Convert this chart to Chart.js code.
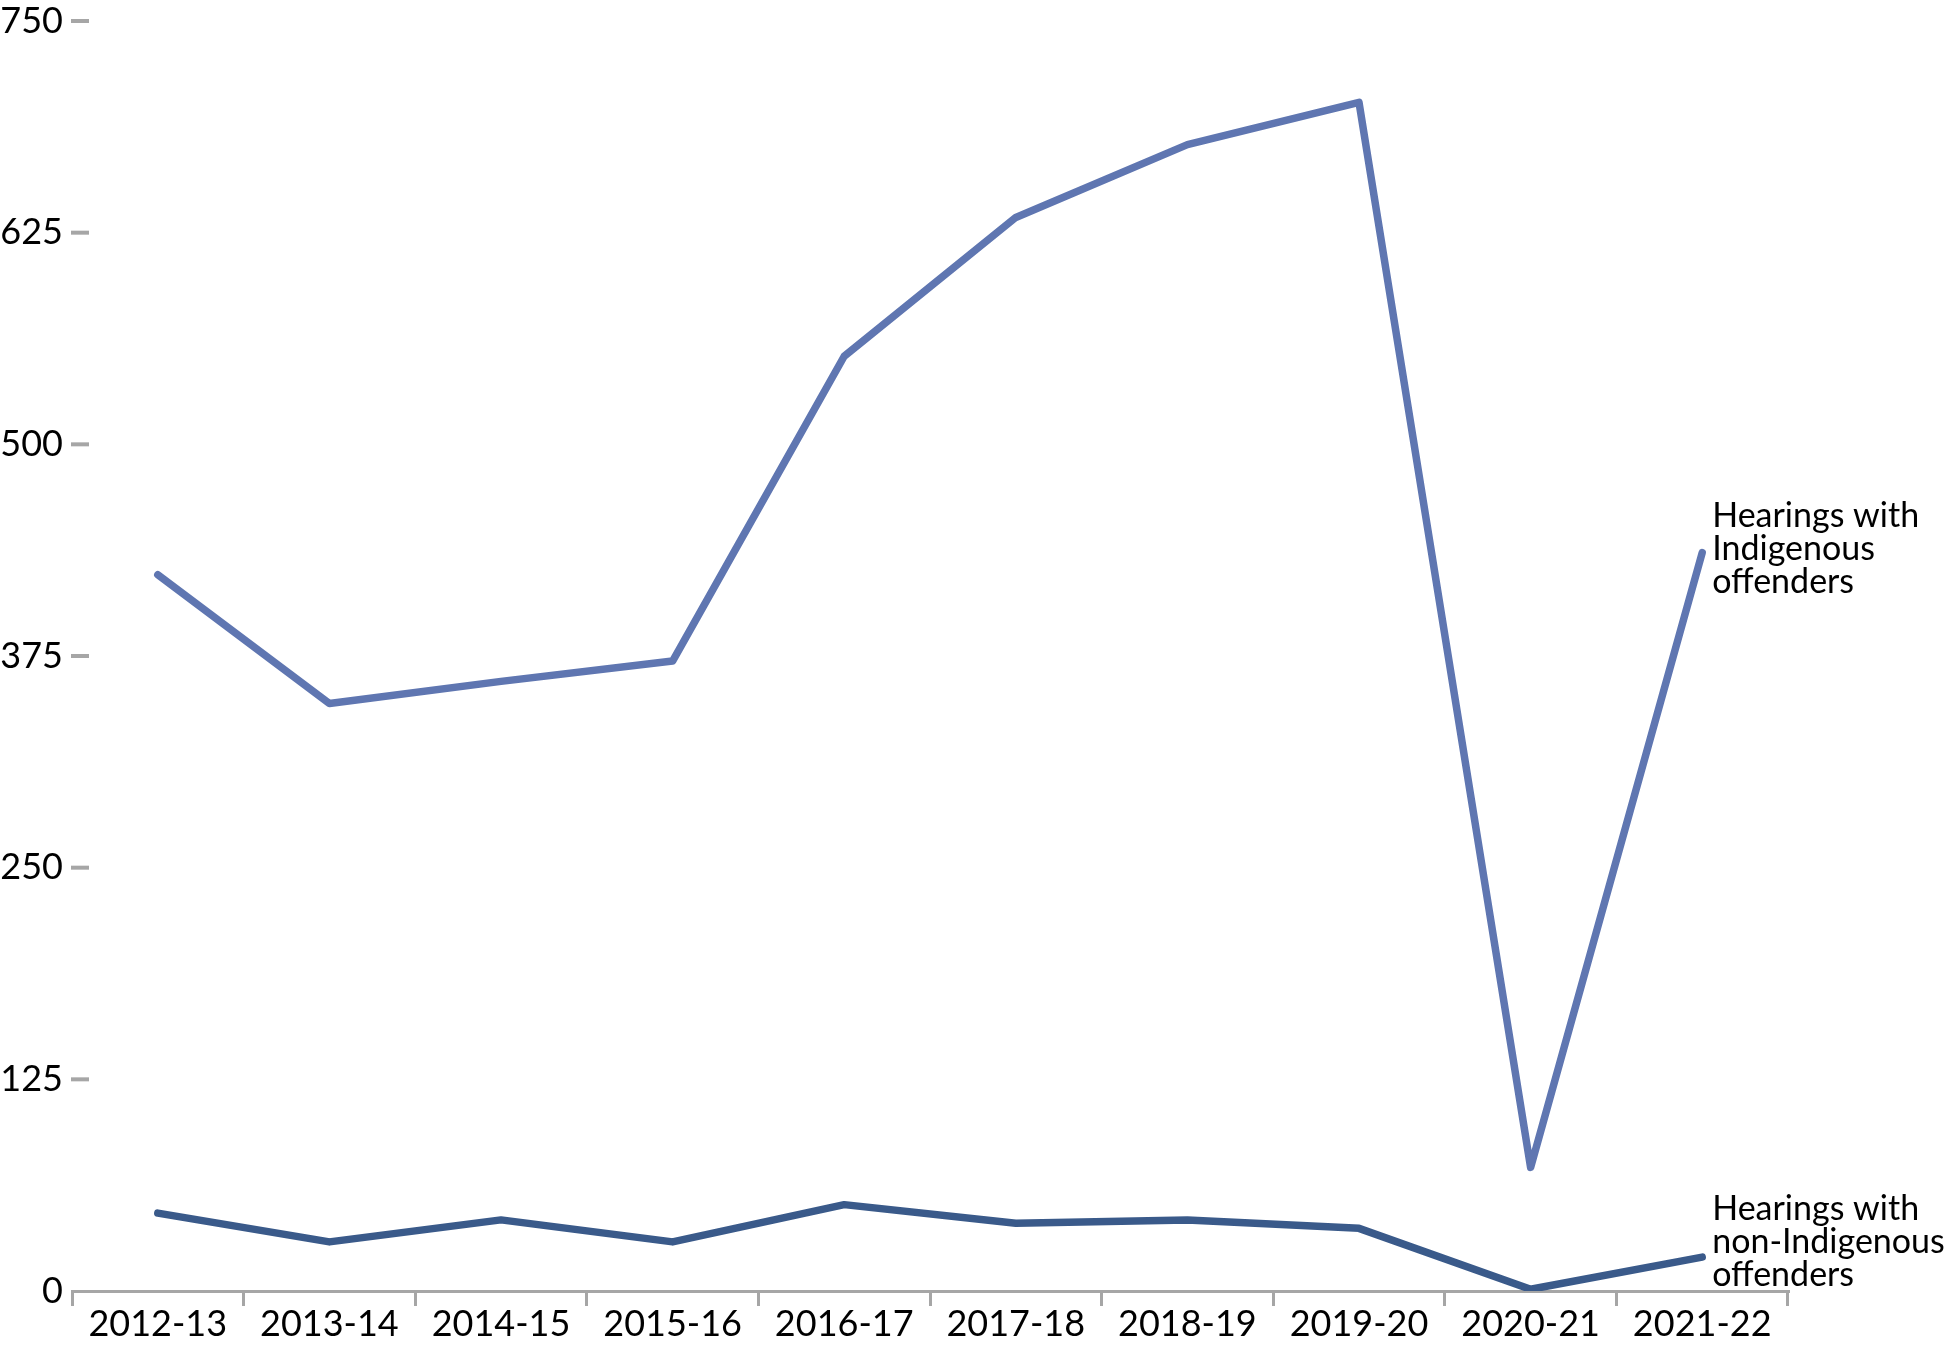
<!DOCTYPE html>
<html>
<head>
<meta charset="utf-8">
<style>
html,body{margin:0;padding:0;background:#fff;}
#wrap{width:1950px;height:1350px;position:relative;}
</style>
<script src="https://cdn.jsdelivr.net/npm/chart.js@4/dist/chart.umd.min.js"></script>
</head>
<body>
<div id="wrap"><canvas id="c" width="1950" height="1350"></canvas></div>
<script>
const categories = ["2012-13","2013-14","2014-15","2015-16","2016-17","2017-18","2018-19","2019-20","2020-21","2021-22"];
const indigenous = [423, 347, 360, 372, 552, 634, 677, 702, 73, 436];
const nonIndigenous = [46, 29, 42, 29, 51, 40, 42, 37, 1, 20];
const yTicks = [0, 125, 250, 375, 500, 625, 750];
const indigenousLabel = ["Hearings with", "Indigenous", "offenders"];
const nonIndigenousLabel = ["Hearings with", "non-Indigenous", "offenders"];

const FONT = "Lato, 'Open Sans', sans-serif";
const GRAY = "#a6a6a6";

const endLabels = {
  id: 'endLabels',
  afterDatasetsDraw(chart) {
    const ctx = chart.ctx;
    ctx.save();
    ctx.fillStyle = '#000';
    ctx.font = '34px ' + FONT;
    ctx.textBaseline = 'middle';
    ctx.textAlign = 'left';
    const lh = 33;
    chart.data.datasets.forEach((ds, i) => {
      const meta = chart.getDatasetMeta(i);
      const pt = meta.data[meta.data.length - 1];
      const lines = ds.endLabel;
      const shift = ds.labelShift || 0;
      lines.forEach((t, k) => {
        ctx.fillText(t, pt.x + 10, pt.y + shift + (k - 1) * lh);
      });
    });
    ctx.restore();
  }
};

const yTickMarks = {
  id: 'yTickMarks',
  afterDraw(chart) {
    const ctx = chart.ctx;
    const y = chart.scales.y;
    const left = chart.chartArea.left;
    ctx.save();
    ctx.strokeStyle = GRAY;
    ctx.lineWidth = 4;
    yTicks.forEach(v => {
      const py = y.getPixelForValue(v);
      if (v === 0) return;
      ctx.beginPath();
      ctx.moveTo(left - 1, py);
      ctx.lineTo(left + 17, py);
      ctx.stroke();
    });
    ctx.restore();
  }
};

new Chart(document.getElementById('c'), {
  type: 'line',
  data: {
    labels: categories,
    datasets: [
      {
        data: indigenous,
        borderColor: '#5f76b1',
        borderWidth: 7.5,
        pointRadius: 0,
        borderCapStyle: 'round',
        borderJoinStyle: 'round',
        tension: 0,
        endLabel: indigenousLabel,
        labelShift: -4
      },
      {
        data: nonIndigenous,
        borderColor: '#3a5a8a',
        borderWidth: 7.5,
        pointRadius: 0,
        borderCapStyle: 'round',
        borderJoinStyle: 'round',
        tension: 0,
        endLabel: nonIndigenousLabel,
        labelShift: -15
      }
    ]
  },
  options: {
    responsive: false,
    animation: false,
    layout: { padding: { top: 21, right: 162, left: 0, bottom: 0 } },
    plugins: { legend: { display: false }, tooltip: { enabled: false } },
    scales: {
      x: {
        type: 'category',
        offset: true,
        grid: {
          display: true,
          offset: true,
          drawOnChartArea: false,
          drawTicks: true,
          tickLength: 15,
          color: GRAY,
          lineWidth: 3
        },
        border: { display: true, color: GRAY, width: 3 },
        ticks: {
          color: '#000',
          font: { family: FONT, size: 36 },
          padding: -3,
          maxRotation: 0,
          autoSkip: false
        },
        afterFit(scale) { scale.height = 59; scale.paddingLeft = 0; scale.paddingRight = 0; }
      },
      y: {
        min: 0,
        max: 750,
        afterBuildTicks(scale) { scale.ticks = yTicks.map(v => ({ value: v })); },
        grid: { display: false, drawTicks: false },
        border: { display: false },
        ticks: {
          color: '#000',
          font: { family: FONT, size: 36, lineHeight: 1 },
          padding: 9
        },
        afterFit(scale) { scale.width = 72; scale.paddingTop = 0; scale.paddingBottom = 0; }
      }
    }
  },
  plugins: [endLabels, yTickMarks]
});
</script>
</body>
</html>
